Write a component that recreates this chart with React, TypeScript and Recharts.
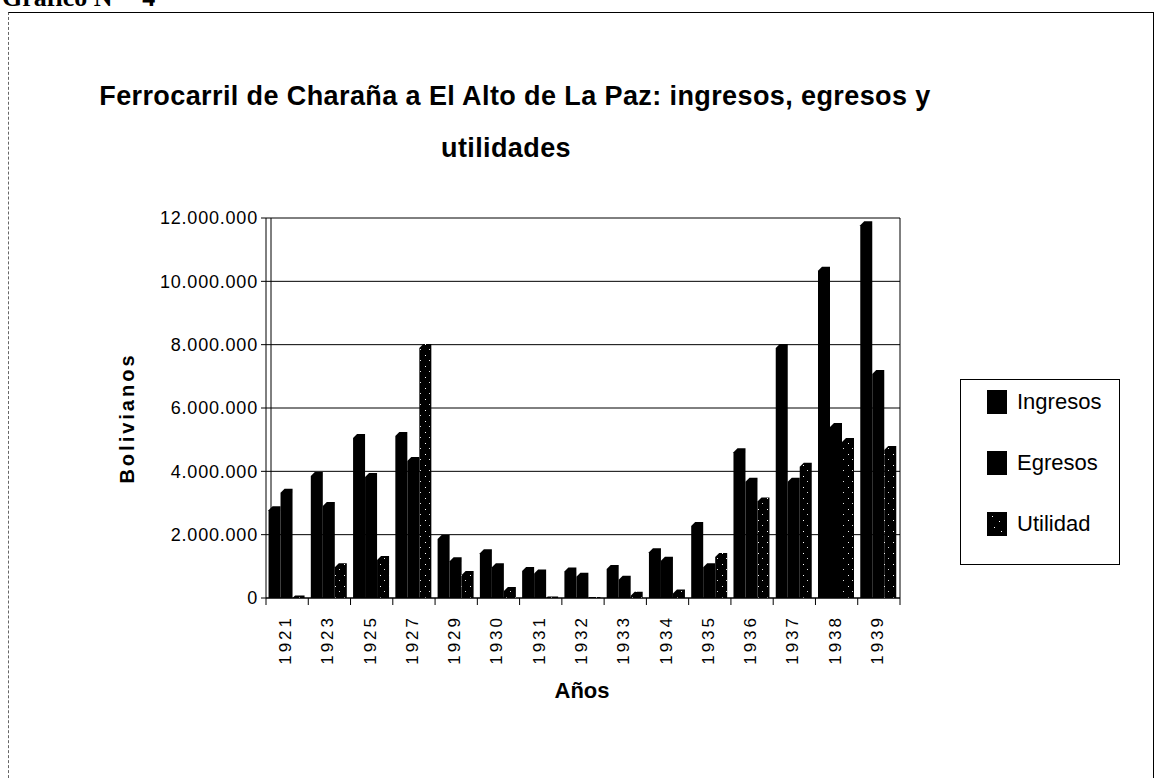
import React from 'react';
import { BarChart, Bar, XAxis, YAxis, CartesianGrid } from 'recharts';

const FONT = '"Liberation Sans", Arial, sans-serif';

// years on the category axis
const years = ['1921', '1923', '1925', '1927', '1929', '1930', '1931', '1932', '1933', '1934', '1935', '1936', '1937', '1938', '1939'];

// Bolivianos
const ingresos = [2900000, 3980000, 5180000, 5240000, 1990000, 1540000, 980000, 960000, 1040000, 1570000, 2400000, 4730000, 8020000, 10460000, 11900000];
const egresos = [3450000, 3030000, 3950000, 4450000, 1290000, 1100000, 900000, 800000, 700000, 1300000, 1100000, 3800000, 3800000, 5530000, 7200000];
const utilidad = [80000, 1100000, 1330000, 8020000, 850000, 350000, 50000, 30000, 200000, 270000, 1420000, 3170000, 4270000, 5050000, 4800000];

const yTicks = [0, 2000000, 4000000, 6000000, 8000000, 10000000, 12000000];

const data = years.map((year, i) => ({
  year,
  ingresos: ingresos[i],
  egresos: egresos[i],
  utilidad: utilidad[i],
}));

const fmt = (v: number) => String(v).replace(/\B(?=(\d{3})+(?!\d))/g, '.');

// flat bar with the little chamfer the old 3D bars have on the top left
function BeveledBar(props: any) {
  const { x, y, width, height, fill } = props;
  if (!height || height <= 0) return null;
  const c = Math.min(4, height, width / 2);
  const d = `M${x},${y + c}L${x + c},${y}L${x + width},${y}L${x + width},${y + height}L${x},${y + height}Z`;
  return <path d={d} fill={fill} />;
}

function YearTick(props: any) {
  const { x, y, payload, index } = props;
  const half = payload && payload.offset ? payload.offset : 21;
  const axisY = y - 8;
  return (
    <g>
      <line x1={x - half} y1={axisY} x2={x - half} y2={axisY + 7} stroke="#000" />
      {index === years.length - 1 && (
        <line x1={x + half} y1={axisY} x2={x + half} y2={axisY + 7} stroke="#000" />
      )}
      <g transform={`translate(${x - 2},${y})`}>
        <text
          transform="rotate(-90)"
          x={-9}
          y={0}
          dy={6}
          textAnchor="end"
          fontSize={17}
          letterSpacing={3}
          fontFamily={FONT}
          fill="#000"
        >
          {payload.value}
        </text>
      </g>
    </g>
  );
}

function BolivianosLabel(props: any) {
  const vb = props.viewBox || { x: 166, y: 218, height: 380 };
  const cx = vb.x - 39;
  const cy = vb.y + vb.height / 2 + 10;
  return (
    <text
      x={cx}
      y={cy}
      transform={`rotate(-90 ${cx} ${cy})`}
      textAnchor="middle"
      dominantBaseline="central"
      fontSize={20}
      fontWeight="bold"
      letterSpacing={3}
      fontFamily={FONT}
      fill="#000"
    >
      Bolivianos
    </text>
  );
}

function AnosLabel(props: any) {
  const vb = props.viewBox || { x: 266, y: 598, width: 634 };
  return (
    <text
      x={vb.x + vb.width / 2 - 1}
      y={vb.y + 100}
      textAnchor="middle"
      fontSize={22}
      fontWeight="bold"
      fontFamily={FONT}
      fill="#000"
    >
      Años
    </text>
  );
}

const legendItems = [
  { name: 'Ingresos', speckle: false },
  { name: 'Egresos', speckle: false },
  { name: 'Utilidad', speckle: true },
];

function Swatch({ speckle }: { speckle: boolean }) {
  return (
    <svg width={20} height={24} style={{ display: 'block' }}>
      <rect width={20} height={24} fill="#000" />
      {speckle && (
        <g fill="#fff">
          <rect x={5} y={4} width={1} height={1} />
          <rect x={12} y={9} width={1} height={1} />
          <rect x={7} y={15} width={1} height={1} />
          <rect x={14} y={19} width={1} height={1} />
        </g>
      )}
    </svg>
  );
}

const titleStyle: React.CSSProperties = {
  position: 'absolute',
  left: 0,
  textAlign: 'center',
  fontFamily: FONT,
  fontWeight: 'bold',
  fontSize: 27,
  lineHeight: '27px',
  letterSpacing: 0.4,
  whiteSpace: 'nowrap',
};

export default function App() {
  return (
    <div style={{ position: 'absolute', left: 0, top: 0, width: 1155, height: 778, overflow: 'hidden', background: '#fff' }}>
      <div
        style={{
          position: 'absolute',
          left: 2,
          top: -15,
          fontFamily: '"Liberation Serif", "Times New Roman", serif',
          fontWeight: 'bold',
          fontSize: 26,
          lineHeight: '26px',
          whiteSpace: 'pre',
        }}
      >
        {'Gráfico N°   4'}
      </div>
      <div
        style={{
          position: 'absolute',
          left: 8,
          top: 12,
          width: 1144,
          height: 800,
          borderTop: '1px solid #000',
          borderRight: '1px solid #000',
          borderLeft: '1px dashed #666',
        }}
      />
      <div style={{ ...titleStyle, top: 83, width: 1030 }}>
        Ferrocarril de Charaña a El Alto de La Paz: ingresos, egresos y
      </div>
      <div style={{ ...titleStyle, top: 135, width: 1012 }}>utilidades</div>

      <div style={{ position: 'absolute', left: 0, top: 0 }}>
        <BarChart
          width={1155}
          height={778}
          data={data}
          margin={{ top: 218, right: 255, bottom: 100, left: 166 }}
          barCategoryGap="6%"
          barGap={0}
        >
          <defs>
            <pattern id="speckle" width={9} height={11} patternUnits="userSpaceOnUse">
              <rect width={9} height={11} fill="#000" />
              <rect x={2} y={3} width={1} height={1} fill="#fff" />
              <rect x={6} y={8} width={1} height={1} fill="#ddd" />
            </pattern>
          </defs>
          <CartesianGrid
            stroke="#000"
            strokeWidth={1}
            verticalCoordinatesGenerator={({ offset }: any) => [offset.left + 5, offset.left + offset.width]}
          />
          <XAxis
            dataKey="year"
            interval={0}
            height={80}
            tickLine={false}
            axisLine={{ stroke: '#000' }}
            tick={<YearTick />}
            label={{ content: <AnosLabel /> }}
          />
          <YAxis
            domain={[0, 12000000]}
            ticks={yTicks}
            width={100}
            tickFormatter={fmt}
            tickSize={5}
            tickMargin={3}
            axisLine={{ stroke: '#000' }}
            tickLine={{ stroke: '#000' }}
            tick={{ fill: '#000', fontSize: 18, fontFamily: FONT, letterSpacing: 0.8 }}
            label={{ content: <BolivianosLabel /> }}
          />
          <Bar dataKey="ingresos" name="Ingresos" fill="#000" shape={<BeveledBar />} isAnimationActive={false} />
          <Bar dataKey="egresos" name="Egresos" fill="#000" shape={<BeveledBar />} isAnimationActive={false} />
          <Bar dataKey="utilidad" name="Utilidad" fill="url(#speckle)" shape={<BeveledBar />} isAnimationActive={false} />
        </BarChart>
      </div>

      <div
        style={{
          position: 'absolute',
          left: 960,
          top: 379,
          width: 160,
          height: 186,
          border: '1px solid #000',
          boxSizing: 'border-box',
          fontFamily: FONT,
          fontSize: 22,
          letterSpacing: 0,
        }}
      >
        {legendItems.map((item, i) => (
          <div
            key={item.name}
            style={{ position: 'absolute', left: 26, top: 10 + i * 61, display: 'flex', alignItems: 'center', gap: 10 }}
          >
            <Swatch speckle={item.speckle} />
            <span style={{ lineHeight: '24px' }}>{item.name}</span>
          </div>
        ))}
      </div>
    </div>
  );
}
